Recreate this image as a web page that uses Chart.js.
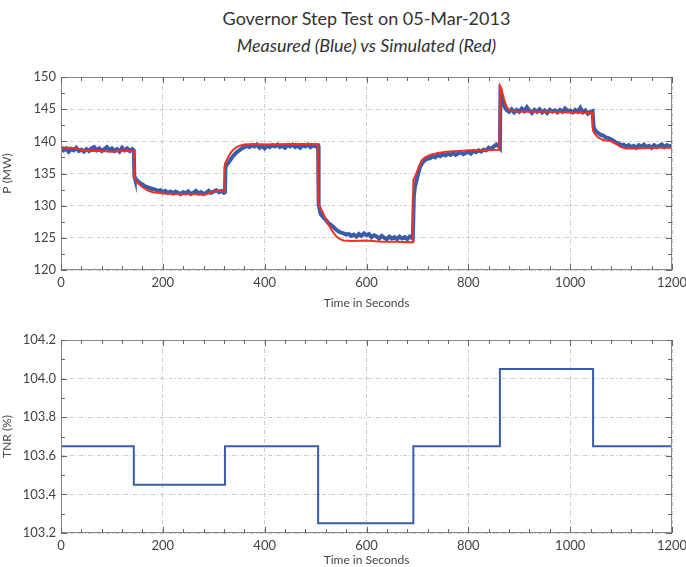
<!DOCTYPE html>
<html>
<head>
<meta charset="utf-8">
<script src="https://cdn.jsdelivr.net/npm/chart.js@4.4.1/dist/chart.umd.min.js"></script>
<style>
  body { margin: 0; background: #fff; font-family: Lato, sans-serif; }
  #wrap { position: relative; width: 686px; height: 567px; }
  .t1, .t2 { position: absolute; left: 61px; width: 611px; text-align: center; color: #333; font-size: 18px; }
  .t1 { top: 7px; }
  .t2 { top: 34px; font-style: italic; }
  canvas { position: absolute; left: 0; }
</style>
</head>
<body>
<div id="wrap">
  <div class="t1">Governor Step Test on 05-Mar-2013</div>
  <div class="t2">Measured (Blue) vs Simulated (Red)</div>
  <canvas id="top" width="686" height="250" style="top:60px;width:686px;height:250px"></canvas>
  <canvas id="bot" width="686" height="247" style="top:320px;width:686px;height:247px"></canvas>
</div>
<script>
// time (s), value pairs
var measured = [
  [0,139.0],[5,138.6],[10,138.9],[15,138.4],[20,138.8],[25,138.6],[30,139.0],[35,138.5],[40,138.7],[45,138.4],
  [50,138.8],[55,138.5],[60,138.9],[65,139.1],[70,138.6],[75,138.9],[80,138.5],[85,138.8],[90,139.1],[95,138.6],
  [100,138.9],[105,138.5],[110,138.8],[115,138.4],[120,139.0],[125,138.6],[130,138.9],[135,138.5],[140,138.8],[143,138.6],
  [144,134.6],[145,134.3],[150,133.9],[155,133.5],[160,133.3],[165,133.0],[170,132.9],[175,132.7],[180,132.6],[185,132.5],
  [190,132.3],[195,132.4],[200,132.1],[205,132.3],[210,132.0],[215,132.2],[220,131.9],[225,132.2],[230,132.0],[235,131.8],
  [240,132.1],[245,131.9],[250,132.2],[255,131.8],[260,132.0],[265,132.3],[270,131.9],[275,132.1],[280,131.8],[285,132.0],
  [290,132.3],[295,132.0],[300,132.2],[305,132.4],[310,132.1],[315,132.3],[320,132.0],[322,132.1],
  [323,136.0],[325,136.3],[330,136.8],[335,137.4],[340,137.9],[345,138.3],[350,138.6],[355,138.9],[360,139.1],[365,139.3],
  [370,139.1],[375,139.4],[380,139.2],[385,139.5],[390,139.0],[395,139.3],[400,138.9],[405,139.3],[410,139.1],[415,139.4],
  [420,139.2],[425,139.5],[430,139.1],[435,139.3],[440,139.0],[445,139.4],[450,139.2],[455,139.5],[460,139.1],[465,139.3],
  [470,139.0],[475,139.4],[480,139.2],[485,139.5],[490,139.1],[495,139.4],[500,139.2],[505,139.3],
  [506,130.2],[510,128.7],[515,128.2],[520,127.8],[525,127.3],[530,127.0],[535,126.7],[540,126.3],[545,126.0],[550,125.8],
  [555,125.7],[560,125.5],[565,125.6],[570,125.3],[575,125.5],[580,125.2],[585,125.6],[590,125.3],[595,125.7],[600,125.4],
  [605,125.6],[610,125.1],[615,125.4],[620,125.2],[625,124.9],[630,125.3],[635,125.0],[640,124.8],[645,125.2],[650,124.9],
  [655,125.1],[660,124.8],[665,125.2],[670,124.9],[675,125.1],[680,124.8],[685,125.2],[691,124.9],
  [693,131.5],[695,132.9],[700,134.5],[705,136.0],[710,136.7],[715,137.1],[720,137.3],[725,137.4],[730,137.7],[735,137.5],
  [740,137.9],[745,137.7],[750,138.0],[755,137.8],[760,138.1],[765,137.9],[770,138.2],[775,137.9],[780,138.1],[785,138.3],
  [790,138.0],[795,138.2],[800,138.4],[805,138.1],[810,138.5],[815,138.3],[820,138.6],[825,138.4],[830,138.7],[835,138.6],
  [840,139.0],[845,138.8],[850,139.2],[855,139.5],[860,139.2],[862,139.0],
  [863,147.4],[865,147.0],[868,146.0],[870,145.6],[875,144.9],[880,144.6],[885,145.0],[890,144.5],[895,144.9],[900,144.6],
  [905,145.1],[910,144.7],[915,145.3],[920,144.8],[925,144.4],[930,144.9],[935,144.6],[940,145.0],[945,144.5],[950,144.8],
  [955,144.4],[960,144.9],[965,144.6],[970,144.8],[975,144.5],[980,144.9],[985,144.6],[990,145.1],[995,144.7],[1000,144.8],
  [1005,144.5],[1010,144.9],[1015,144.6],[1020,145.2],[1025,144.5],[1030,144.8],[1035,144.3],[1040,144.6],[1044,144.7],
  [1046,142.2],[1050,141.6],[1055,141.3],[1060,141.0],[1065,140.9],[1070,140.6],[1075,140.5],[1080,140.3],[1085,140.1],[1090,139.8],
  [1095,139.7],[1100,139.4],[1105,139.5],[1110,139.2],[1115,139.4],[1120,139.1],[1125,139.3],[1130,139.0],[1135,139.4],[1140,139.2],
  [1145,139.5],[1150,139.1],[1155,139.3],[1160,139.0],[1165,139.4],[1170,139.1],[1175,139.3],[1180,139.5],[1185,139.1],[1190,139.4],
  [1195,139.2],[1200,139.3]
];

var simulated = [
  [0,139.1],[10,139.0],[20,139.0],[30,138.9],[40,138.7],[50,138.5],[60,138.5],[80,138.5],[100,138.4],[120,138.5],[143,138.5],
  [143.5,134.5],[150,133.6],[160,132.9],[170,132.4],[180,132.1],[190,132.0],[200,131.9],[220,131.8],[240,131.8],[260,131.8],
  [280,131.7],[290,131.9],[300,132.2],[310,132.3],[321,132.2],
  [322,136.5],[325,137.0],[330,137.8],[335,138.4],[340,138.8],[345,139.1],[350,139.3],[360,139.5],[380,139.6],[400,139.5],
  [450,139.6],[504,139.6],
  [505,130.3],[510,129.6],[515,128.8],[520,127.9],[528,126.7],[535,125.8],[541,125.2],[548,124.8],[555,124.6],[570,124.5],
  [600,124.6],[630,124.4],[660,124.4],[691,124.3],
  [692,134.0],[697,134.8],[702,135.9],[708,137.0],[715,137.5],[725,137.9],[740,138.2],[757,138.4],[780,138.5],[803,138.6],
  [830,138.6],[861,138.7],
  [862.5,148.6],[865,148.2],[867,147.5],[870,146.6],[874,145.6],[879,144.9],[885,144.7],[900,144.6],[950,144.6],[1000,144.5],
  [1044,144.4],
  [1045,141.6],[1050,141.0],[1055,140.6],[1065,140.2],[1080,140.0],[1090,139.6],[1100,139.1],[1110,138.9],[1130,138.9],
  [1160,139.0],[1200,139.0]
];

// TNR set-point changes (time, new value)
var tnr = [[0,103.65],[143,103.45],[322,103.65],[505,103.25],[692,103.65],[862,104.05],[1045,103.65],[1200,103.65]];

var xTicks = [0, 200, 400, 600, 800, 1000, 1200];
var pTicks = [120, 125, 130, 135, 140, 145, 150];
var tnrTicks = [103.2, 103.4, 103.6, 103.8, 104.0, 104.2];

function pts(arr) { return arr.map(function(p){ return {x: p[0], y: p[1]}; }); }

var TXT = '#444';
var tickFont = {family: 'Lato', size: 13};

// frame on all four sides plus small inward ticks
var framePlugin = {
  id: 'frame',
  afterDraw: function(chart, args, o) {
    var ctx = chart.ctx, a = chart.chartArea, x = chart.scales.x, y = chart.scales.y;
    ctx.save();
    ctx.strokeStyle = '#888';
    ctx.lineWidth = 1;
    ctx.strokeRect(a.left + 0.5, a.top + 0.5, a.right - a.left - 1, a.bottom - a.top - 1);
    ctx.strokeStyle = '#666';
    ctx.beginPath();
    var n = Math.round((x.max - x.min) / o.xMinor);
    for (var i = 0; i <= n; i++) {
      var px = Math.round(x.getPixelForValue(x.min + i * o.xMinor)) + 0.5;
      var len = (i % o.xEvery === 0) ? 6 : 4;
      ctx.moveTo(px, a.bottom); ctx.lineTo(px, a.bottom - len);
      ctx.moveTo(px, a.top); ctx.lineTo(px, a.top + len);
    }
    var m = Math.round((y.max - y.min) / o.yMinor);
    for (var j = 0; j <= m; j++) {
      var py = Math.round(y.getPixelForValue(y.min + j * o.yMinor)) + 0.5;
      var ln = (j % o.yEvery === 0) ? 6 : 4;
      ctx.moveTo(a.left, py); ctx.lineTo(a.left + ln, py);
      ctx.moveTo(a.right, py); ctx.lineTo(a.right - ln, py);
    }
    ctx.stroke();
    ctx.restore();
  }
};

function makeChart(id, datasets, yMin, yMax, yTicks, yTitle, yFmt, padTop, xHeight, minorOpts) {
  return new Chart(document.getElementById(id), {
    type: 'line',
    data: { datasets: datasets },
    plugins: [framePlugin],
    options: {
      responsive: false,
      animation: false,
      layout: { padding: { top: padTop, right: 14, left: 0, bottom: 0 } },
      plugins: { legend: { display: false }, tooltip: { enabled: false }, frame: minorOpts },
      elements: { point: { radius: 0 }, line: { tension: 0 } },
      scales: {
        x: {
          type: 'linear', min: 0, max: 1200,
          afterBuildTicks: function(s) { s.ticks = xTicks.map(function(v){ return {value: v}; }); },
          afterFit: function(s) { s.height = xHeight; s.paddingRight = 0; s.paddingLeft = 0; },
          ticks: { color: TXT, font: tickFont, padding: 5, maxRotation: 0, callback: function(v){ return String(v); } },
          grid: { color: '#cccccc', drawTicks: false },
          border: { display: false, dash: [4, 2, 1, 2] },
          title: { display: true, text: 'Time in Seconds', color: TXT, font: {family: 'Lato', size: 12}, padding: 0 }
        },
        y: {
          min: yMin, max: yMax,
          afterBuildTicks: function(s) { s.ticks = yTicks.map(function(v){ return {value: v}; }); },
          afterFit: function(s) { s.width = 61; },
          ticks: { color: TXT, font: tickFont, padding: 5, callback: yFmt },
          grid: { color: '#cccccc', drawTicks: false },
          border: { display: false, dash: [4, 2, 1, 2] },
          title: { display: true, text: yTitle, color: TXT, font: {family: 'Lato', size: 12}, padding: 0 }
        }
      }
    }
  });
}

makeChart('top', [
  { label: 'Simulated', data: pts(simulated), borderColor: '#ee3128', borderWidth: 2, order: 1 },
  { label: 'Measured', data: pts(measured), borderColor: '#3b5ca8', borderWidth: 4, order: 2 }
], 120, 150, pTicks, 'P (MW)', function(v){ return String(v); }, 17, 40,
   { xMinor: 40, xEvery: 5, yMinor: 2.5, yEvery: 2 });

makeChart('bot', [
  { label: 'TNR', data: pts(tnr), borderColor: '#3b5ca8', borderWidth: 2, stepped: 'before' }
], 103.2, 104.2, tnrTicks, 'TNR (%)', function(v){ return v.toFixed(1); }, 20, 34,
   { xMinor: 40, xEvery: 5, yMinor: 0.1, yEvery: 2 });
</script>
</body>
</html>
